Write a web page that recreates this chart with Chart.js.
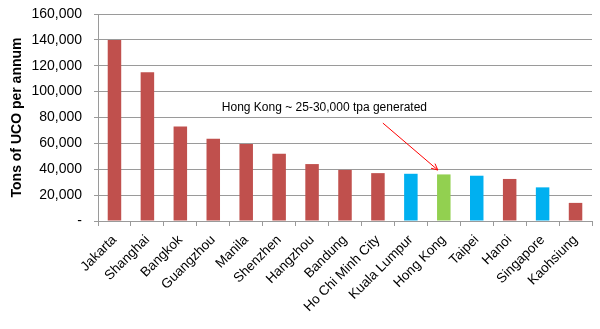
<!DOCTYPE html>
<html>
<head>
<meta charset="utf-8">
<script src="https://cdn.jsdelivr.net/npm/chart.js@4"></script>
<style>
  html, body { margin: 0; padding: 0; background: #fff; }
  #wrap { width: 600px; height: 329px; position: relative; }
</style>
</head>
<body>
<div id="wrap"><canvas id="c"></canvas></div>
<script>
// ===== data =====
const cities = ["Jakarta", "Shanghai", "Bangkok", "Guangzhou", "Manila", "Shenzhen", "Hangzhou",
  "Bandung", "Ho Chi Minh City", "Kuala Lumpur", "Hong Kong", "Taipei", "Hanoi", "Singapore", "Kaohsiung"];
const tons = [140000, 115000, 73000, 63500, 59500, 52000, 44000, 39500, 37000, 36500, 36000, 35000, 32500, 26000, 14000];
const groups = ["cn", "cn", "cn", "cn", "cn", "cn", "cn", "cn", "cn", "blue", "hk", "blue", "cn", "blue", "cn"];
const yTicks = [0, 20000, 40000, 60000, 80000, 100000, 120000, 140000, 160000];
const note = "Hong Kong ~ 25-30,000 tpa generated";

const palette = { cn: "#C0504D", blue: "#00B0F0", hk: "#92D050" };
const FONT = "'Liberation Sans', Arial, sans-serif";

// draws the callout text and red arrow
const calloutPlugin = {
  id: "callout",
  afterDatasetsDraw(chart) {
    const { ctx, scales: { x, y } } = chart;
    const step = x.getPixelForValue(1) - x.getPixelForValue(0);
    const hk = cities.indexOf("Hong Kong");
    ctx.save();
    ctx.font = "12px " + FONT;
    ctx.fillStyle = "#000";
    ctx.textBaseline = "middle";
    ctx.fillText(note, x.getPixelForValue(0) + step * 3.26, y.getPixelForValue(87300));
    const x0 = x.getPixelForValue(0) + step * 8.15, y0 = y.getPixelForValue(75700);
    const x1 = x.getPixelForValue(hk) - 6, y1 = y.getPixelForValue(39400);
    ctx.strokeStyle = "#FF0000";
    ctx.lineWidth = 1;
    ctx.beginPath();
    ctx.moveTo(x0, y0);
    ctx.lineTo(x1, y1);
    ctx.stroke();
    const a = Math.atan2(y1 - y0, x1 - x0);
    ctx.beginPath();
    ctx.moveTo(x1 - 7 * Math.cos(a - 0.45), y1 - 7 * Math.sin(a - 0.45));
    ctx.lineTo(x1, y1);
    ctx.lineTo(x1 - 7 * Math.cos(a + 0.45), y1 - 7 * Math.sin(a + 0.45));
    ctx.stroke();
    ctx.restore();
  }
};

new Chart(document.getElementById("c"), {
  type: "bar",
  data: {
    labels: cities,
    datasets: [{
      data: tons,
      backgroundColor: groups.map(g => palette[g]),
      barPercentage: 0.5,
      categoryPercentage: 0.82
    }]
  },
  options: {
    responsive: true,
    maintainAspectRatio: false,
    animation: false,
    layout: { padding: { top: 0, right: 8, left: 9, bottom: 0 } },
    plugins: { legend: { display: false }, tooltip: { enabled: false } },
    scales: {
      x: {
        offset: true,
        afterFit(axis) {
          axis.height = 108;
          axis.paddingLeft = 0;
          axis.paddingRight = 0;
        },
        grid: { display: true, drawOnChartArea: false, offset: true, tickLength: 5, color: "#9a9a9a" },
        border: { color: "#9a9a9a" },
        ticks: {
          color: "#000",
          padding: 6,
          maxRotation: 45, minRotation: 45,
          autoSkip: false,
          font: { family: FONT, size: 13.5 }
        }
      },
      y: {
        min: 0, max: 160000,
        afterBuildTicks(axis) { axis.ticks = yTicks.map(v => ({ value: v })); },
        afterFit(axis) {
          axis.width = 89;
          axis.paddingTop = 14;
        },
        grid: { color: "#9a9a9a", tickLength: 4 },
        border: { color: "#9a9a9a" },
        title: {
          display: true,
          text: "Tons of UCO per annum",
          color: "#000",
          padding: { top: 0, bottom: 6 },
          font: { family: FONT, size: 14, weight: "bold" }
        },
        ticks: {
          color: "#000",
          padding: 12,
          font: { family: FONT, size: 14 },
          callback: v => v === 0 ? "-" : v.toLocaleString("en-US")
        }
      }
    }
  },
  plugins: [calloutPlugin]
});
</script>
</body>
</html>
